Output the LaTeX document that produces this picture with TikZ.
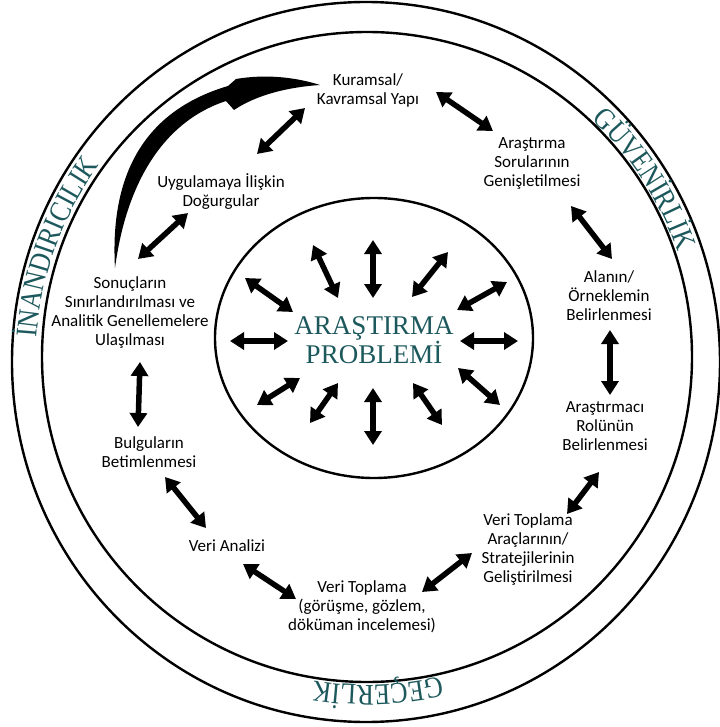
\documentclass[tikz,border=0pt]{standalone}
\usepackage{fontspec}
\setmainfont{Carlito}
\newfontfamily\serifcaps{Liberation Serif}
\newfontfamily\ringserif[FakeStretch=0.86]{Liberation Serif}
\usepackage{tikz}
\usetikzlibrary{arrows.meta, decorations.text}
\usepackage{xcolor}

\definecolor{probteal}{RGB}{28,88,92}
\newcommand{\ringfont}{\ringserif\fontsize{30}{32}\selectfont}

\begin{document}
\begin{tikzpicture}[
  x=1pt, y=-1pt,
  font=\fontsize{17}{19}\selectfont,
  stage/.style={align=center, inner sep=0pt},
  problem/.style={align=center, inner sep=0pt, text=probteal,
                  font=\serifcaps\fontsize{27}{29}\selectfont},
  link/.style={{Triangle[length=14pt,width=17pt]}-{Triangle[length=14pt,width=17pt]},
               line width=5.5pt},
  ring/.style={line width=2.4pt},
  ringlabel/.style={decorate, decoration={text along path, text align=center,
                    text color=probteal, text={|\ringfont|#1}}}
]
\useasboundingbox (0,0) rectangle (719,727);

%% Rings
\draw[ring] (366,362) ellipse [x radius=354, y radius=360];
\draw[ring] (367,357) circle [radius=325];
\draw[ring] (374,338) ellipse [x radius=159, y radius=140];

%% Ring labels
\path[ringlabel=GÜVENİRLİK] (366,360) ++(-63:330) arc[start angle=-63, end angle=-3, radius=330];
\path[ringlabel=İNANDIRICILIK] (366,360) ++(-200:330) arc[start angle=-200, end angle=-120, radius=330];
\path[ringlabel=GEÇERLİK] (366,358) ++(58:327) arc[start angle=58, end angle=118, radius=327];

%% Stages
\node[stage] (kur)  at (368,90)  {Kuramsal/\\Kavramsal Yapı};
\node[stage] (ara)  at (532,163) {Araştırma\\Sorularının\\Genişletilmesi};
\node[stage] (ala)  at (609,296) {Alanın/\\Örneklemin\\Belirlenmesi};
\node[stage] (rol)  at (605,426) {Araştırmacı\\Rolünün\\Belirlenmesi};
\node[stage] (arac) at (528,550) {Veri Toplama\\Araçlarının/\\Stratejilerinin\\Geliştirilmesi};
\node[stage] (vt)   at (362,607) {Veri Toplama\\(görüşme, gözlem,\\döküman incelemesi)};
\node[stage] (van)  at (227,546) {Veri Analizi};
\node[stage] (bul)  at (149,452) {Bulguların\\Betimlenmesi};
\node[stage] (son)  at (130,313) {Sonuçların\\Sınırlandırılması ve\\Analitik Genellemelere\\Ulaşılması};
\node[stage] (uyg)  at (221,192) {Uygulamaya İlişkin\\Doğurgular};

%% Research problem
\node[problem] (prob) at (374,340) {ARAŞTIRMA\\PROBLEMİ};

%% Cycle links
\draw[link] ([shift={(68,2)}]kur.center)   -- ([shift={(-39,-32)}]ara.center);
\draw[link] ([shift={(39,43)}]ara.center)  -- ([shift={(3,-37)}]ala.center);
\draw[link] ([shift={(1,34)}]ala.center)   -- ([shift={(5,-31)}]rol.center);
\draw[link] ([shift={(-6,46)}]rol.center)  -- ([shift={(39,-36)}]arac.center);
\draw[link] ([shift={(-56,3)}]arac.center) -- ([shift={(60,-15)}]vt.center);
\draw[link] ([shift={(-66,-8)}]vt.center)  -- ([shift={(16,18)}]van.center);
\draw[link] ([shift={(-21,-18)}]van.center) -- ([shift={(16,25)}]bul.center);
\draw[link] ([shift={(-11,-25)}]bul.center) -- ([shift={(10,49)}]son.center);
\draw[link] ([shift={(8,-54)}]son.center)  -- ([shift={(-33,21)}]uyg.center);
\draw[link] ([shift={(36,-38)}]uyg.center) -- ([shift={(-63,18)}]kur.center);

%% Radial links around the problem
\foreach \xa/\ya/\xb/\yb in {-1/-100/-1/-42, -61/-95/-36/-42, 74/-88/38/-43,
    -129/-62/-81/-28, 133/-58/83/-30, -144/1/-86/1, 86/1/144/1,
    -117/65/-74/38, -64/83/-36/43, -1/48/-1/105, 39/43/68/85, 84/28/126/65}
  \draw[link] ([shift={(\xa,\ya)}]prob.center) -- ([shift={(\xb,\yb)}]prob.center);

%% Feedback swoosh
\fill (115,268) .. controls (110,180) and (140,112) .. (228,86)
  -- (236,79) .. controls (265,74) and (295,77) .. (320,85)
  .. controls (290,87) and (258,94) .. (234,110)
  -- (226,101) .. controls (162,122) and (126,185) .. (115,268) -- cycle;

\end{tikzpicture}
\end{document}
